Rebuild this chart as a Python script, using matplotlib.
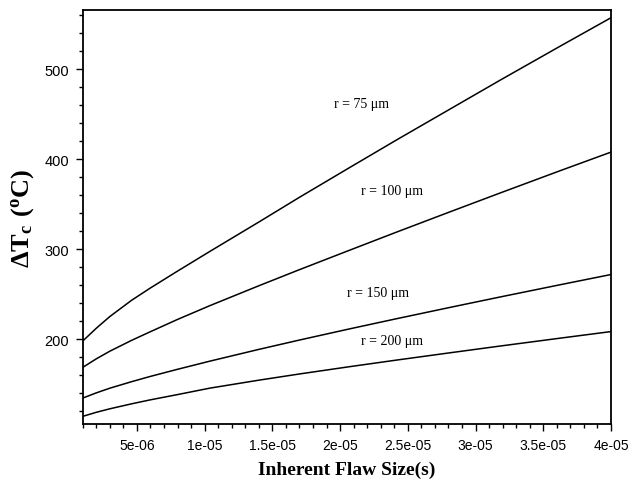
import matplotlib
matplotlib.use('Agg')
import matplotlib.pyplot as plt
from matplotlib.ticker import MultipleLocator

plt.rcParams['mathtext.fontset'] = 'custom'
plt.rcParams['mathtext.rm'] = 'Liberation Serif'
plt.rcParams['mathtext.bf'] = 'Liberation Serif:bold'

# flaw size (m) and critical temperature difference (deg C)
flaw = [1e-6, 2e-6, 3e-6, 4.6e-6, 5.97e-6, 8e-6, 10.4e-6, 14e-6, 17e-6,
        20.7e-6, 24.2e-6, 28e-6, 31.8e-6, 36.2e-6, 40e-6]
dT_75 = [197.8, 212, 225, 243, 256.5, 275.5, 297.5, 330, 357.5,
         390.5, 421.5, 454.5, 487.5, 525, 557]
dT_100 = [168.5, 178, 186.5, 198.5, 208, 221.8, 237.2, 259.2, 277.1,
          298.7, 319, 340.7, 362.2, 386.8, 407.7]
dT_150 = [134.4, 140.2, 145.4, 152.6, 158.4, 166.4, 175.5, 188.5, 198.9,
          211.3, 222.7, 234.8, 246.7, 260.2, 271.7]
dT_200 = [114.1, 118.6, 122.5, 128, 132.4, 138.3, 145.5, 154.3, 161.2,
          169.3, 176.7, 184.5, 192.2, 200.9, 208.3]

labels = ['r = 75 \u03bcm', 'r = 100 \u03bcm', 'r = 150 \u03bcm', 'r = 200 \u03bcm']
label_pos = [(2.16e-5, 462), (2.38e-5, 365.5), (2.28e-5, 252), (2.38e-5, 198)]

xticks = [5e-6, 1e-5, 1.5e-5, 2e-5, 2.5e-5, 3e-5, 3.5e-5, 4e-5]
xticklabels = ['5e-06', '1e-05', '1.5e-05', '2e-05', '2.5e-05', '3e-05', '3.5e-05', '4e-05']
yticks = [200, 300, 400, 500]

fig = plt.figure(figsize=(6.33, 4.81), dpi=100)
ax = fig.add_axes([0.1307, 0.1164, 0.8345, 0.8607])

for series in [dT_75, dT_100, dT_150, dT_200]:
    ax.plot(flaw, series, color='black', lw=1.1)

for txt, (tx, ty) in zip(labels, label_pos):
    ax.text(tx, ty, txt, ha='center', va='center', fontsize=10,
            family='Liberation Serif')

ax.set_xlim(1e-6, 4e-5)
ax.set_ylim(105.6, 565.6)
ax.set_xticks(xticks)
ax.set_xticklabels(xticklabels, family='Liberation Sans', fontsize=10)
ax.set_yticks(yticks)
ax.set_yticklabels([str(v) for v in yticks], family='Liberation Sans', fontsize=10.5)
ax.xaxis.set_minor_locator(MultipleLocator(1e-6))
ax.yaxis.set_minor_locator(MultipleLocator(20))
ax.tick_params(which='major', direction='out', length=5, width=1, pad=5)
ax.tick_params(which='minor', direction='out', length=3, width=1)
for s in ax.spines.values():
    s.set_linewidth(1.3)

ax.set_xlabel('Inherent Flaw Size(s)', family='Liberation Serif', fontweight='bold',
              fontsize=14, labelpad=6)
ax.set_ylabel(r'$\mathbf{\Delta T_c\ (^oC)}$', fontsize=19, labelpad=6)

fig.savefig('out.png', dpi=100)
